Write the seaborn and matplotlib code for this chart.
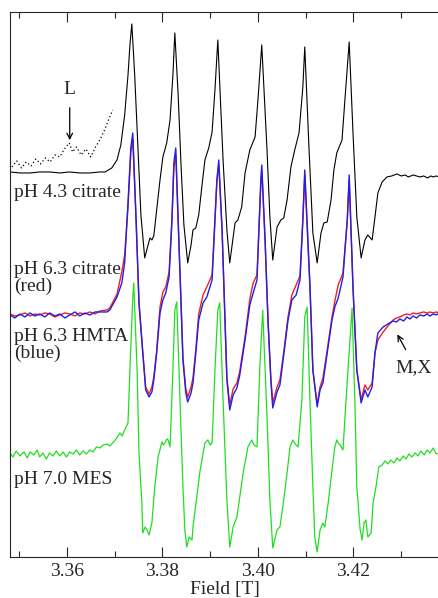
import numpy as np
import pandas as pd
import matplotlib
matplotlib.use("Agg")
import matplotlib.pyplot as plt
import seaborn as sns
from matplotlib.ticker import MultipleLocator, FormatStrFormatter

# ===================== DATA (field in T, signal in a.u., traces stacked) =====================
black_field = [3.3481, 3.3502, 3.3523, 3.3543, 3.3564, 3.3585, 3.3606, 3.3627, 3.3648, 3.3669,
               3.3680, 3.3694, 3.3705, 3.3713, 3.3721, 3.3728, 3.3732, 3.3736, 3.3742, 3.3749,
               3.3755, 3.3763, 3.3770, 3.3774, 3.3778, 3.3782, 3.3788, 3.3795, 3.3801, 3.3809,
               3.3816, 3.3822, 3.3826, 3.3833, 3.3839, 3.3845, 3.3853, 3.3860, 3.3864, 3.3870,
               3.3876, 3.3883, 3.3889, 3.3897, 3.3904, 3.3910, 3.3916, 3.3927, 3.3935, 3.3941,
               3.3952, 3.3958, 3.3966, 3.3973, 3.3983, 3.3994, 3.4000, 3.4008, 3.4019, 3.4025,
               3.4031, 3.4040, 3.4048, 3.4054, 3.4061, 3.4069, 3.4077, 3.4086, 3.4094, 3.4098,
               3.4107, 3.4115, 3.4124, 3.4132, 3.4138, 3.4145, 3.4153, 3.4159, 3.4165, 3.4176,
               3.4182, 3.4191, 3.4199, 3.4207, 3.4216, 3.4224, 3.4230, 3.4239, 3.4245, 3.4251,
               3.4260, 3.4270, 3.4280, 3.4291, 3.4300, 3.4308, 3.4315, 3.4325, 3.4332, 3.4339,
               3.4347, 3.4355, 3.4362, 3.4367, 3.4373, 3.4379]
black_signal = [385, 384, 384, 385, 385, 384, 385, 384, 384, 385,
                385, 389, 397, 412, 442, 482, 512, 533, 482, 407,
                342, 299, 312, 319, 317, 321, 347, 377, 400, 414,
                437, 482, 524, 462, 392, 332, 294, 312, 327, 329,
                342, 372, 397, 409, 425, 467, 517, 397, 327, 294,
                334, 337, 350, 384, 407, 420, 457, 512, 407, 340,
                297, 330, 337, 339, 357, 390, 407, 424, 470, 510,
                407, 324, 294, 324, 334, 335, 357, 387, 404, 417,
                457, 515, 424, 340, 299, 317, 322, 317, 340, 364,
                375, 380, 381, 383, 381, 382, 380, 382, 381, 380,
                381, 379, 381, 380, 381, 380]

# pH 4.3 baseline, magnified (dotted)
dotted_field = [3.3485, 3.3495, 3.3505, 3.3515, 3.3525, 3.3535, 3.3545, 3.3555, 3.3565, 3.3575,
                3.3585, 3.3595, 3.3605, 3.3612, 3.3620, 3.3630, 3.3640, 3.3650, 3.3660, 3.3670,
                3.3680, 3.3688, 3.3696]
dotted_signal = [390, 396, 389, 395, 391, 398, 393, 399, 395, 402,
                 400, 408, 414, 405, 410, 402, 408, 400, 410, 418,
                 428, 438, 447]

blue_field = [3.3481, 3.3491, 3.3502, 3.3512, 3.3523, 3.3533, 3.3543, 3.3554, 3.3564, 3.3575,
              3.3585, 3.3596, 3.3606, 3.3617, 3.3627, 3.3638, 3.3648, 3.3659, 3.3669, 3.3684,
              3.3690, 3.3705, 3.3715, 3.3721, 3.3728, 3.3734, 3.3738, 3.3745, 3.3751, 3.3759,
              3.3765, 3.3772, 3.3778, 3.3782, 3.3788, 3.3795, 3.3801, 3.3807, 3.3814, 3.3820,
              3.3824, 3.3828, 3.3833, 3.3839, 3.3843, 3.3849, 3.3853, 3.3860, 3.3864, 3.3870,
              3.3876, 3.3885, 3.3893, 3.3904, 3.3910, 3.3914, 3.3918, 3.3925, 3.3931, 3.3935,
              3.3941, 3.3948, 3.3956, 3.3962, 3.3973, 3.3983, 3.3990, 3.3998, 3.4002, 3.4006,
              3.4008, 3.4015, 3.4021, 3.4027, 3.4031, 3.4040, 3.4046, 3.4054, 3.4063, 3.4071,
              3.4080, 3.4088, 3.4094, 3.4098, 3.4109, 3.4115, 3.4124, 3.4130, 3.4136, 3.4145,
              3.4155, 3.4161, 3.4168, 3.4178, 3.4187, 3.4191, 3.4199, 3.4207, 3.4216, 3.4224,
              3.4230, 3.4239, 3.4245, 3.4251, 3.4262, 3.4272, 3.4283, 3.4290, 3.4297, 3.4305,
              3.4312, 3.4318, 3.4325, 3.4332, 3.4339, 3.4347, 3.4354, 3.4360, 3.4367, 3.4373,
              3.4379]
blue_signal = [242, 239, 243, 240, 244, 241, 243, 240, 244, 241,
               243, 239, 242, 245, 241, 244, 242, 245, 245, 245,
               247, 260, 274, 294, 354, 410, 424, 337, 254, 204,
               167, 160, 165, 177, 204, 244, 257, 264, 280, 337,
               394, 409, 337, 254, 197, 164, 155, 164, 174, 204,
               237, 254, 260, 277, 337, 377, 397, 327, 237, 177,
               147, 162, 169, 182, 217, 252, 264, 277, 327, 377,
               392, 317, 237, 177, 149, 165, 172, 202, 237, 257,
               262, 277, 337, 387, 270, 187, 150, 167, 174, 204,
               237, 250, 259, 280, 337, 382, 270, 187, 154, 167,
               160, 170, 204, 224, 230, 233, 236, 235, 238, 236,
               240, 238, 241, 239, 242, 241, 243, 241, 243, 242,
               244]

red_field = blue_field
red_signal = [243, 241, 242, 244, 241, 243, 242, 244, 243, 240,
              242, 244, 243, 241, 244, 243, 245, 243, 246, 247,
              249, 263, 285, 302, 350, 405, 417, 335, 254, 204,
              170, 163, 170, 180, 206, 250, 265, 270, 285, 337,
              390, 402, 335, 254, 199, 168, 160, 170, 179, 208,
              243, 262, 270, 282, 337, 375, 392, 325, 237, 179,
              152, 168, 174, 186, 220, 258, 274, 282, 327, 372,
              387, 315, 237, 179, 154, 170, 177, 205, 240, 262,
              272, 281, 337, 382, 268, 187, 153, 170, 179, 207,
              240, 256, 272, 284, 337, 377, 268, 187, 157, 172,
              167, 174, 204, 217, 225, 231, 237, 239, 240, 242,
              243, 242, 244, 243, 244, 245, 244, 245, 244, 245,
              244]

green_field = [3.3481, 3.3487, 3.3494, 3.3502, 3.3510, 3.3517, 3.3523, 3.3531, 3.3538, 3.3543,
               3.3550, 3.3557, 3.3564, 3.3571, 3.3578, 3.3585, 3.3592, 3.3599, 3.3606, 3.3613,
               3.3620, 3.3627, 3.3634, 3.3641, 3.3648, 3.3655, 3.3662, 3.3669, 3.3676, 3.3684,
               3.3690, 3.3696, 3.3703, 3.3711, 3.3716, 3.3721, 3.3728, 3.3732, 3.3738, 3.3740,
               3.3747, 3.3751, 3.3757, 3.3759, 3.3764, 3.3768, 3.3772, 3.3778, 3.3784, 3.3791,
               3.3799, 3.3802, 3.3805, 3.3809, 3.3812, 3.3816, 3.3822, 3.3826, 3.3830, 3.3837,
               3.3843, 3.3847, 3.3851, 3.3856, 3.3862, 3.3864, 3.3872, 3.3879, 3.3889, 3.3895,
               3.3900, 3.3904, 3.3910, 3.3916, 3.3920, 3.3927, 3.3935, 3.3941, 3.3948, 3.3956,
               3.3969, 3.3979, 3.3987, 3.3992, 3.3998, 3.4004, 3.4010, 3.4019, 3.4025, 3.4031,
               3.4040, 3.4046, 3.4052, 3.4061, 3.4067, 3.4073, 3.4078, 3.4084, 3.4092, 3.4098,
               3.4103, 3.4109, 3.4115, 3.4119, 3.4124, 3.4130, 3.4136, 3.4140, 3.4147, 3.4155,
               3.4161, 3.4165, 3.4168, 3.4172, 3.4178, 3.4184, 3.4193, 3.4197, 3.4203, 3.4207,
               3.4214, 3.4218, 3.4222, 3.4226, 3.4230, 3.4237, 3.4241, 3.4247, 3.4253, 3.4260,
               3.4266, 3.4272, 3.4278, 3.4285, 3.4291, 3.4297, 3.4304, 3.4310, 3.4316, 3.4322,
               3.4329, 3.4335, 3.4341, 3.4348, 3.4354, 3.4360, 3.4367, 3.4373, 3.4379]
green_signal = [104, 100, 106, 101, 105, 99, 105, 102, 107, 100,
                104, 98, 104, 101, 106, 101, 105, 100, 105, 103,
                107, 102, 106, 103, 107, 105, 110, 109, 112, 113,
                111, 114, 118, 124, 121, 127, 134, 187, 260, 274,
                187, 104, 54, 24, 30, 27, 22, 34, 70, 100,
                115, 112, 114, 118, 117, 110, 187, 247, 255, 154,
                70, 27, 10, 20, 17, 30, 60, 87, 114, 117,
                112, 114, 187, 247, 254, 157, 57, 10, 30, 40,
                84, 110, 117, 112, 110, 190, 247, 140, 57, 9,
                27, 30, 50, 84, 110, 117, 113, 110, 157, 240,
                250, 154, 70, 20, 5, 27, 34, 30, 54, 87,
                110, 117, 114, 112, 107, 154, 220, 249, 154, 70,
                27, 17, 34, 37, 20, 24, 54, 70, 90, 92,
                96, 93, 97, 94, 99, 96, 101, 98, 103, 100,
                104, 101, 106, 102, 107, 104, 109, 103, 104]

major_ticks = [3.36, 3.38, 3.40, 3.42]

# ===================== PLOT =====================
sns.set_style("ticks")
plt.rcParams["font.family"] = ["Liberation Serif", "DejaVu Serif"]

fig = plt.figure(figsize=(4.39, 5.98), dpi=100)
ax = fig.add_axes([0.0228, 0.0686, 0.9772, 0.9114])

def draw(xs, ys, color, lw=0.8, ls="-"):
    df = pd.DataFrame({"field": xs, "signal": ys})
    sns.lineplot(data=df, x="field", y="signal", color=color, lw=lw, ls=ls,
                 sort=False, estimator=None, ax=ax)

draw(black_field, black_signal, "black")
draw(dotted_field, dotted_signal, "black", lw=0.9, ls=(0, (1, 2)))
draw(red_field, red_signal, "#ee2020", lw=1.0)
draw(blue_field, blue_signal, "#2020e8", lw=1.0)
draw(green_field, green_signal, "#22dd22", lw=0.9)

ax.set_xlim(3.3481, 3.4379)
ax.set_ylim(0, 545)
ax.set_xticks(major_ticks)
ax.xaxis.set_major_formatter(FormatStrFormatter("%.2f"))
ax.xaxis.set_minor_locator(MultipleLocator(0.01))
ax.set_yticks([])
ax.tick_params(axis="x", which="major", direction="in", top=True, length=7.5,
               width=0.8, labelsize=14, pad=4)
ax.tick_params(axis="x", which="minor", direction="in", top=True, length=4.5, width=0.8)
ax.spines["right"].set_visible(False)
for s in ["left", "top", "bottom"]:
    ax.spines[s].set_linewidth(0.8)
ax.set_xlabel("Field [T]", fontsize=14, labelpad=1)
ax.set_ylabel("")

fs = 14
ax.text(3.3489, 364, "pH 4.3 citrate", fontsize=fs, va="center", ha="left")
ax.text(3.3489, 279, "pH 6.3 citrate\n(red)", fontsize=fs, va="center", ha="left", linespacing=1.0)
ax.text(3.3489, 212, "pH 6.3 HMTA\n(blue)", fontsize=fs, va="center", ha="left", linespacing=1.0)
ax.text(3.3489, 77, "pH 7.0 MES", fontsize=fs, va="center", ha="left")

ax.text(3.3606, 467, "L", fontsize=fs, va="center", ha="center")
ax.annotate("", xy=(3.3606, 414), xytext=(3.3606, 452),
            arrowprops=dict(arrowstyle="->", color="black", lw=0.9))
ax.text(3.4325, 189, "M,X", fontsize=fs, va="center", ha="center")
ax.annotate("", xy=(3.4289, 225), xytext=(3.4312, 205),
            arrowprops=dict(arrowstyle="->", color="black", lw=0.9))

fig.savefig("out.png", dpi=100)
